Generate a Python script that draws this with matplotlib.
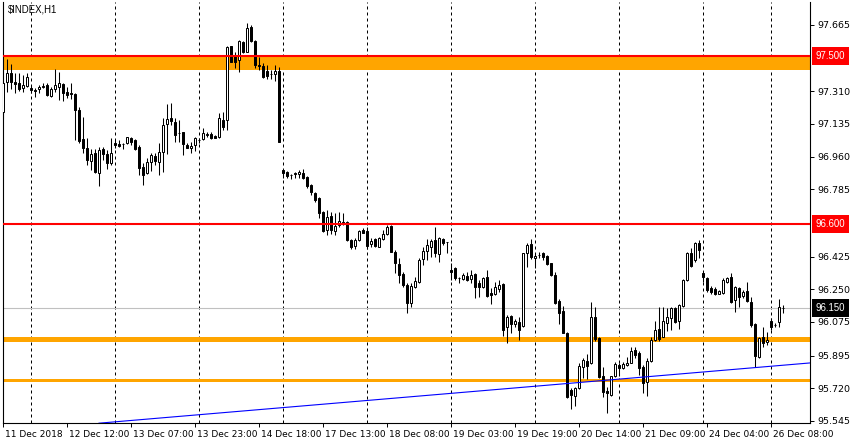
import matplotlib
matplotlib.use("Agg")
import matplotlib.pyplot as plt
from matplotlib.transforms import ScaledTranslation, blended_transform_factory

# H1 candles of $INDEX (one entry per bar)
open_ = [97.201, 97.358, 97.407, 97.358, 97.352, 97.326, 97.339, 97.326, 97.317, 97.321,
         97.335, 97.344, 97.287, 97.321, 97.335, 97.349, 97.307, 97.303, 97.296, 97.210,
         97.053, 97.005, 96.939, 96.978, 96.875, 96.999, 96.975, 96.928, 97.032, 97.027,
         97.027, 97.032, 97.059, 97.050, 97.014, 96.907, 96.871, 96.933, 96.964, 96.934,
         96.987, 97.134, 97.166, 97.148, 97.085, 97.091, 97.023, 97.005, 97.023, 97.048,
         97.053, 97.076, 97.082, 97.069, 97.064, 97.157, 97.155, 97.553, 97.505, 97.476,
         97.576, 97.522, 97.656, 97.581, 97.451, 97.446, 97.419, 97.402, 97.403, 97.419,
         96.889, 96.877, 96.862, 96.869, 96.866, 96.871, 96.853, 96.809, 96.768, 96.741,
         96.666, 96.568, 96.643, 96.564, 96.595, 96.612, 96.612, 96.514, 96.484, 96.514,
         96.568, 96.562, 96.491, 96.518, 96.478, 96.518, 96.546, 96.589, 96.452, 96.386,
         96.332, 96.273, 96.175, 96.261, 96.291, 96.411, 96.455, 96.478, 96.514, 96.439,
         96.518, 96.502, 96.354, 96.363, 96.310, 96.304, 96.322, 96.304, 96.332, 96.286,
         96.261, 96.318, 96.232, 96.224, 96.250, 96.279, 96.049, 96.107, 96.063, 96.076,
         96.056, 96.446, 96.493, 96.416, 96.434, 96.443, 96.428, 96.390, 96.327, 96.189,
         96.134, 96.018, 95.711, 95.680, 95.720, 95.833, 95.866, 95.854, 96.100, 95.988,
         95.786, 95.706, 95.685, 95.783, 95.845, 95.828, 95.845, 95.857, 95.925, 95.908,
         95.836, 95.756, 95.868, 95.979, 96.036, 95.997, 96.072, 96.095, 96.152, 96.082,
         96.161, 96.300, 96.443, 96.407, 96.500, 96.336, 96.309, 96.256, 96.250, 96.225,
         96.229, 96.291, 96.318, 96.193, 96.256, 96.215, 96.243, 96.184, 96.063, 95.890,
         95.997, 95.965, 96.082, 96.060, 96.077, 96.149]
high = [97.365, 97.482, 97.456, 97.407, 97.410, 97.398, 97.410, 97.339, 97.326, 97.344,
        97.353, 97.353, 97.335, 97.428, 97.414, 97.353, 97.332, 97.353, 97.300, 97.225,
        97.174, 97.059, 97.001, 96.999, 97.014, 97.014, 96.996, 97.059, 97.050, 97.050,
        97.032, 97.067, 97.064, 97.053, 97.023, 96.928, 96.952, 96.978, 96.978, 97.032,
        97.166, 97.241, 97.246, 97.166, 97.155, 97.094, 97.032, 97.040, 97.067, 97.059,
        97.112, 97.094, 97.094, 97.076, 97.193, 97.201, 97.554, 97.554, 97.522, 97.585,
        97.580, 97.674, 97.665, 97.585, 97.495, 97.460, 97.451, 97.424, 97.451, 97.442,
        96.889, 96.884, 96.866, 96.880, 96.889, 96.894, 96.857, 96.812, 96.773, 96.746,
        96.670, 96.675, 96.666, 96.657, 96.666, 96.657, 96.616, 96.518, 96.523, 96.568,
        96.577, 96.586, 96.523, 96.527, 96.529, 96.568, 96.595, 96.595, 96.461, 96.416,
        96.345, 96.282, 96.282, 96.318, 96.416, 96.478, 96.518, 96.518, 96.586, 96.529,
        96.523, 96.503, 96.390, 96.371, 96.318, 96.339, 96.345, 96.353, 96.339, 96.300,
        96.318, 96.353, 96.256, 96.291, 96.300, 96.282, 96.113, 96.111, 96.090, 96.102,
        96.446, 96.496, 96.518, 96.443, 96.452, 96.452, 96.434, 96.393, 96.345, 96.197,
        96.161, 96.023, 95.720, 95.729, 95.854, 95.881, 95.904, 96.184, 96.154, 95.993,
        95.836, 95.729, 95.786, 95.858, 95.854, 95.863, 95.890, 95.940, 95.940, 95.920,
        95.845, 95.883, 95.997, 96.082, 96.154, 96.157, 96.149, 96.154, 96.154, 96.172,
        96.304, 96.452, 96.470, 96.505, 96.514, 96.339, 96.318, 96.268, 96.261, 96.247,
        96.309, 96.318, 96.336, 96.268, 96.264, 96.247, 96.291, 96.211, 96.068, 95.997,
        96.050, 96.023, 96.095, 96.068, 96.197, 96.166]
low = [97.167, 97.308, 97.321, 97.303, 97.314, 97.308, 97.332, 97.300, 97.278, 97.300,
       97.326, 97.285, 97.281, 97.308, 97.264, 97.260, 97.273, 97.269, 97.050, 97.035,
       96.978, 96.916, 96.889, 96.875, 96.803, 96.943, 96.893, 96.916, 97.005, 97.011,
       97.003, 97.028, 97.023, 96.996, 96.862, 96.809, 96.866, 96.885, 96.916, 96.862,
       96.880, 96.973, 97.130, 97.040, 97.040, 96.969, 97.005, 96.978, 96.991, 97.035,
       97.048, 97.067, 97.055, 97.059, 97.062, 97.103, 97.103, 97.466, 97.433, 97.415,
       97.514, 97.519, 97.576, 97.433, 97.424, 97.383, 97.376, 97.376, 97.365, 97.037,
       96.845, 96.848, 96.839, 96.845, 96.845, 96.841, 96.794, 96.755, 96.719, 96.634,
       96.557, 96.541, 96.545, 96.541, 96.585, 96.595, 96.511, 96.464, 96.464, 96.511,
       96.550, 96.464, 96.478, 96.475, 96.475, 96.514, 96.541, 96.448, 96.336, 96.286,
       96.264, 96.122, 96.154, 96.256, 96.286, 96.380, 96.407, 96.425, 96.422, 96.398,
       96.487, 96.443, 96.300, 96.300, 96.282, 96.300, 96.296, 96.282, 96.202, 96.211,
       96.256, 96.211, 96.172, 96.220, 96.238, 96.000, 95.961, 96.015, 96.050, 95.979,
       96.050, 96.370, 96.411, 96.363, 96.416, 96.407, 96.380, 96.323, 96.172, 96.065,
       96.015, 95.667, 95.608, 95.626, 95.715, 95.774, 95.769, 95.850, 95.975, 95.774,
       95.675, 95.590, 95.679, 95.779, 95.783, 95.822, 95.840, 95.854, 95.881, 95.790,
       95.695, 95.679, 95.861, 95.974, 95.972, 95.993, 96.029, 96.032, 96.068, 96.036,
       96.154, 96.296, 96.371, 96.398, 96.416, 96.291, 96.238, 96.225, 96.220, 96.222,
       96.225, 96.286, 96.179, 96.130, 96.157, 96.202, 96.184, 96.050, 95.833, 95.884,
       95.943, 95.952, 96.032, 96.049, 96.047, 96.125]
close = [97.353, 97.407, 97.362, 97.351, 97.321, 97.344, 97.385, 97.316, 97.310, 97.332,
         97.340, 97.292, 97.324, 97.342, 97.356, 97.300, 97.292, 97.294, 97.210, 97.046,
         97.008, 96.943, 96.975, 96.880, 96.996, 96.975, 96.925, 96.978, 97.024, 97.019,
         97.026, 97.064, 97.039, 97.003, 96.898, 96.864, 96.930, 96.969, 96.937, 96.985,
         97.130, 97.160, 97.151, 97.076, 97.084, 97.027, 97.008, 97.019, 97.062, 97.047,
         97.085, 97.082, 97.059, 97.062, 97.166, 97.121, 97.549, 97.469, 97.469, 97.580,
         97.519, 97.647, 97.581, 97.451, 97.446, 97.388, 97.392, 97.401, 97.421, 97.040,
         96.875, 96.858, 96.861, 96.870, 96.877, 96.848, 96.805, 96.770, 96.728, 96.657,
         96.562, 96.639, 96.568, 96.589, 96.613, 96.604, 96.514, 96.478, 96.514, 96.562,
         96.553, 96.484, 96.511, 96.482, 96.523, 96.546, 96.582, 96.452, 96.390, 96.327,
         96.273, 96.179, 96.268, 96.296, 96.407, 96.455, 96.487, 96.511, 96.443, 96.523,
         96.497, 96.501, 96.345, 96.309, 96.309, 96.327, 96.300, 96.327, 96.261, 96.261,
         96.309, 96.216, 96.220, 96.261, 96.273, 96.032, 96.100, 96.063, 96.081, 96.030,
         96.443, 96.487, 96.425, 96.428, 96.434, 96.422, 96.384, 96.327, 96.179, 96.125,
         96.018, 95.675, 95.685, 95.720, 95.840, 95.872, 95.840, 96.100, 95.983, 95.782,
         95.702, 95.694, 95.783, 95.851, 95.828, 95.851, 95.857, 95.922, 95.898, 95.828,
         95.747, 95.868, 95.979, 96.032, 95.982, 96.082, 96.101, 96.149, 96.077, 96.166,
         96.300, 96.443, 96.375, 96.497, 96.461, 96.315, 96.247, 96.238, 96.225, 96.243,
         96.300, 96.309, 96.184, 96.261, 96.211, 96.238, 96.189, 96.059, 95.893, 95.988,
         95.961, 95.979, 96.047, 96.060, 96.154, 96.150]

# time axis labels (every 16 bars) and dashed grid positions (bar index)
tick_bars = [0, 16, 32, 48, 64, 80, 96, 112, 128, 144, 160, 176, 192]
tick_labels = ["11 Dec 2018", "12 Dec 12:00", "13 Dec 07:00", "13 Dec 23:00",
               "14 Dec 18:00", "17 Dec 13:00", "18 Dec 08:00", "19 Dec 03:00",
               "19 Dec 19:00", "20 Dec 14:00", "21 Dec 09:00", "24 Dec 04:00",
               "26 Dec 08:00"]
grid_bars = [7, 28, 49, 70, 91, 112, 133, 154, 175, 192]

# price scale labels
price_ticks = [97.665, 97.310, 97.135, 96.960, 96.785, 96.425, 96.250,
               96.075, 95.895, 95.720, 95.545]

# drawn objects
red_levels = [97.500, 96.600]
orange_zones = [(97.424, 97.500), (95.969, 95.996), (95.756, 95.771)]
bid_price = 96.150
trend_bars = [24, 202]
trend_prices = [95.533, 95.856]

W, H = 850, 445
fig = plt.figure(figsize=(W / 100, H / 100), dpi=100)
fig.patch.set_facecolor("white")
ax = fig.add_axes([2.5 / W, 22 / H, 807.5 / W, 421 / H])
plt.rcParams["font.family"] = ["Liberation Sans", "DejaVu Sans"]

n = len(close)
x = list(range(n))

# vertical grid
for g in grid_bars:
    ax.axvline(g, color="black", lw=0.72, linestyle=(0, (3, 3)), zorder=0.5)

# support / resistance zones
for lo, hi in orange_zones:
    ax.axhspan(lo, hi, color="#FFA500", lw=0, zorder=1)

ax.axhline(bid_price, color="#C0C0C0", lw=0.8, zorder=1.5)

# candles
ax.vlines(x, low, high, color="black", lw=0.75, zorder=2)
fills = ["white" if c >= o else "black" for o, c in zip(open_, close)]
heights = [c - o for o, c in zip(open_, close)]
ax.bar(x, heights, bottom=open_, width=0.5, color=fills, edgecolor="black",
       linewidth=0.72, zorder=3)

for lvl in red_levels:
    ax.axhline(lvl, color="#FF0000", lw=1.5, zorder=4)

ax.plot(trend_bars, trend_prices, color="#0000FF", lw=0.8, zorder=4)

ax.set_xlim(-0.125, 201.75)
ax.set_ylim(95.534, 97.788)

# axes look like the terminal chart
for side in ["left", "bottom", "right"]:
    ax.spines[side].set_color("black")
    ax.spines[side].set_linewidth(0.8)
ax.spines["top"].set_visible(False)

ax.yaxis.tick_right()
ax.set_yticks(price_ticks)
ax.set_yticklabels([f"{p:.3f}" for p in price_ticks])
ax.tick_params(axis="y", direction="out", length=3, width=0.7, pad=2,
               labelsize=6.8, colors="black")

ax.set_xticks(tick_bars)
ax.set_xticklabels(tick_labels)
ax.tick_params(axis="x", direction="out", length=3, width=0.7, pad=2,
               labelsize=6.5, colors="black")
shift = ScaledTranslation(2 / 100, 0, fig.dpi_scale_trans)
for lab in ax.get_xticklabels():
    lab.set_horizontalalignment("left")
    lab.set_transform(lab.get_transform() + shift)

# price boxes on the scale
tr = blended_transform_factory(ax.transAxes, ax.transData)
for lvl in red_levels:
    ax.text(1.007, lvl, f"{lvl:.3f}", transform=tr, ha="left", va="center",
            fontsize=6.9, color="white", clip_on=False, zorder=6,
            bbox=dict(boxstyle="square,pad=0.4", fc="#FF0000", ec="none"))
ax.text(1.007, bid_price, f"{bid_price:.3f}", transform=tr, ha="left", va="center",
        fontsize=6.9, color="white", clip_on=False, zorder=6,
        bbox=dict(boxstyle="square,pad=0.4", fc="black", ec="none"))

ax.text(0.0068, 0.981, "$INDEX,H1", transform=ax.transAxes, ha="left",
        va="center", fontsize=6.9, color="black")

fig.savefig("out.png", dpi=100, facecolor="white")
